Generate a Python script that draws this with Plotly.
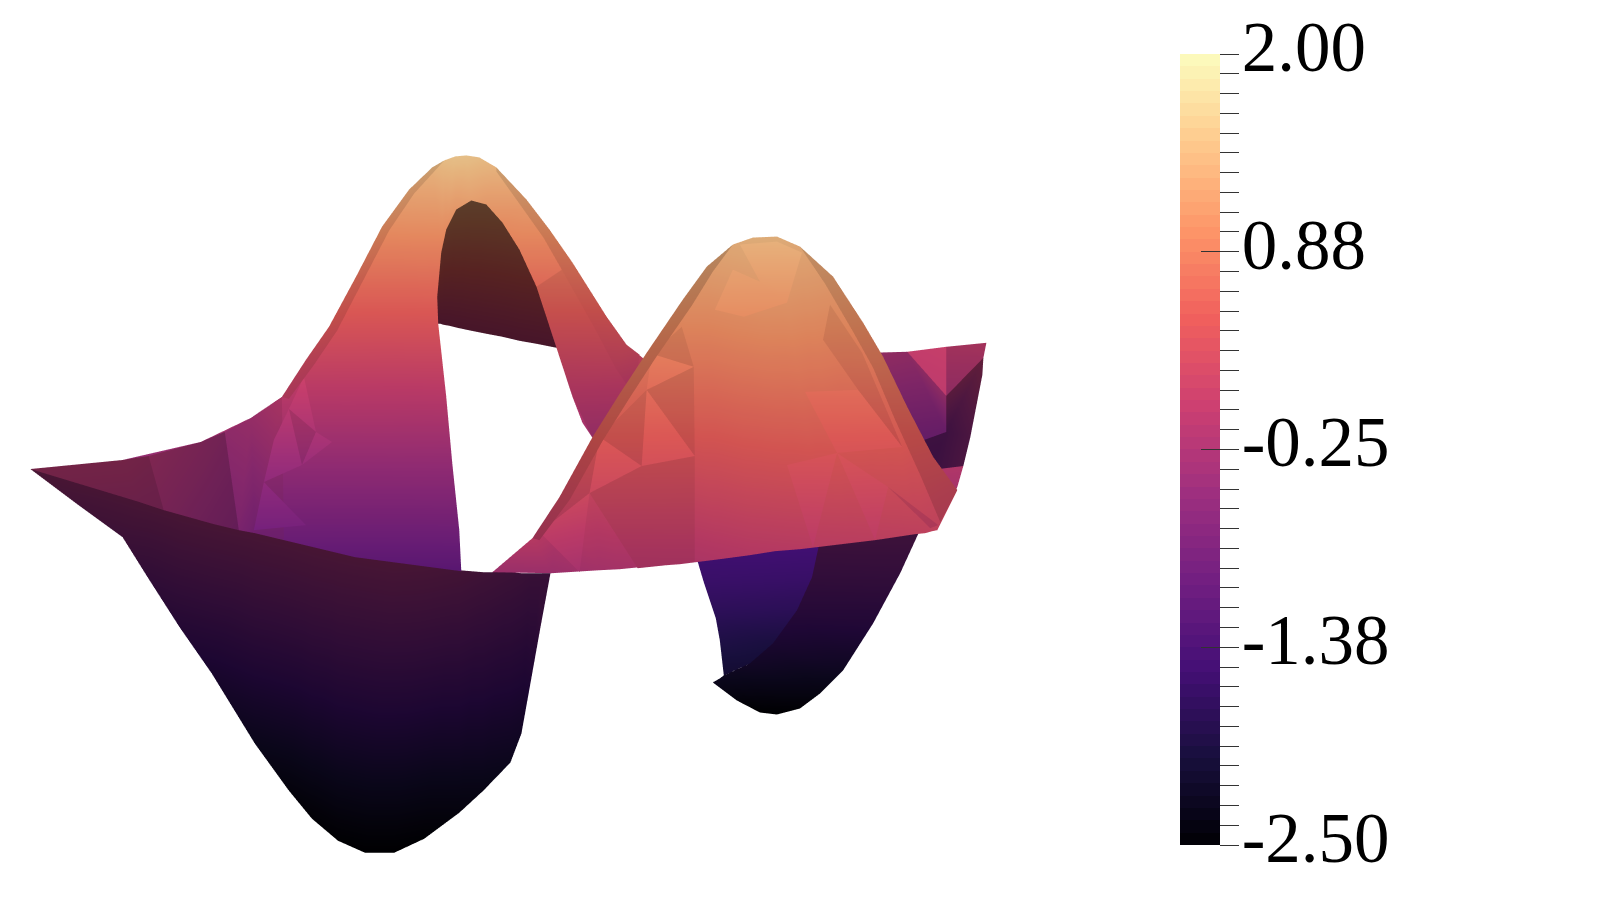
import plotly.graph_objects as go
from plotly.colors import sample_colorscale

# value range and colorbar labels
VMIN, VMAX = -2.5, 2.0
MAJOR_VALS = [-2.5, -1.375, -0.25, 0.875, 2.0]
MAJOR_TEXT = ['-2.50', '-1.38', '-0.25', '0.88', '2.00']
TICK_VALS = [VMIN + n * 0.1125 for n in range(41)]

# sheet, as strips between two edge lines (across, height, value)
P1_LEFT_AX = [32, 124, 202, 252, 283, 307, 330, 357, 383, 410, 433, 445, 456, 467]
P1_LEFT_AH = [469, 460, 442, 418, 397, 360, 327, 277, 227, 190, 168, 161, 157, 156]
P1_LEFT_AV = [-0.51, -0.45, -0.33, -0.18, -0.04, 0.2, 0.41, 0.73, 1.05, 1.3, 1.45, 1.55, 1.6, 1.6]
P1_LEFT_BX = [32, 141, 256, 356, 462, 460, 453, 447, 439, 438, 442, 447, 457, 472]
P1_LEFT_BH = [469, 502, 533, 557, 571, 530, 463, 397, 324, 297, 253, 230, 210, 201]
P1_LEFT_BV = [-0.51, -0.72, -0.92, -1.08, -1.17, -0.9, -0.47, -0.04, 0.43, 0.6, 0.89, 1.03, 1.15, 1.25]

P1_RIGHT_AX = [467, 480, 497, 527, 550, 573, 607, 627, 660]
P1_RIGHT_AH = [156, 158, 168, 200, 230, 263, 317, 345, 372]
P1_RIGHT_AV = [1.6, 1.55, 1.45, 1.22, 1.03, 0.82, 0.47, 0.3, 0.1]
P1_RIGHT_BX = [472, 487, 503, 520, 537, 557, 573, 583, 593]
P1_RIGHT_BH = [201, 205, 223, 250, 287, 348, 397, 423, 438]
P1_RIGHT_BV = [1.25, 1.18, 1.05, 0.9, 0.66, 0.27, -0.04, -0.2, -0.3]

P1_LOW_AX = [573, 607, 627, 660]
P1_LOW_AH = [263, 317, 345, 372]
P1_LOW_AV = [0.82, 0.47, 0.3, 0.1]
P1_LOW_BX = [537, 557, 573, 593]
P1_LOW_BH = [287, 348, 397, 438]
P1_LOW_BV = [0.66, 0.27, -0.04, -0.3]

ARCH_AX = [439, 438, 442, 447, 457, 472, 487, 503, 520, 537, 557]
ARCH_AH = [324, 297, 253, 230, 210, 201, 205, 223, 250, 287, 348]
ARCH_AV = [-0.1, 0.35, 0.74, 0.94, 1.12, 1.2, 1.16, 1.0, 0.77, 0.44, -0.1]
ARCH_BX = [439, 441, 444, 450, 458, 472, 487, 503, 520, 537, 557]
ARCH_BH = [324, 324, 325, 326, 328, 331, 334, 337, 341, 344, 348]
ARCH_BV = [-0.1] * 11

V1_AX = [32, 80, 124, 149, 181, 213, 256, 290, 313, 339, 366, 395, 425, 460, 484, 511, 522, 531, 541, 551]
V1_AH = [469, 482, 492, 500, 510, 518, 528, 536, 543, 549, 554, 559, 564, 570, 572, 572, 573, 573, 573, 573]
V1_AV = [-0.35] * 12 + [-0.4, -0.5, -0.6, -0.7, -0.75, -0.8, -0.8, -0.8]
V1_BX = V1_AX
V1_BH = [469, 505, 537, 577, 627, 673, 743, 790, 818, 840, 852, 852, 838, 812, 790, 762, 733, 683, 627, 573]
V1_BV = [-0.35, -0.55, -0.7, -1.0, -1.3, -1.6, -2.0, -2.28, -2.4, -2.46, -2.5, -2.5, -2.44, -2.25, -2.1, -1.95, -1.8, -1.45, -1.0, -0.8]

P2_AX = [493, 533, 560, 593, 620, 647, 683, 707, 733, 753, 777, 800, 833, 863, 883, 907, 933, 957]
P2_AH = [572, 538, 497, 437, 394, 353, 300, 267, 245, 238, 237, 247, 277, 323, 357, 407, 457, 490]
P2_AV = [-0.3, 0.05, 0.23, 0.5, 0.7, 0.88, 1.12, 1.27, 1.4, 1.45, 1.45, 1.38, 1.22, 1.01, 0.86, 0.63, 0.41, 0.26]
P2_BX = [493, 552, 600, 620, 640, 680, 720, 750, 775, 800, 825, 850, 875, 895, 915, 925, 932, 937]
P2_BH = [572, 573, 570, 569, 567, 564, 559, 555, 551, 549, 546, 543, 540, 537, 534, 533, 531, 530]
P2_BV = [-0.3, -0.3, -0.2, -0.17, -0.15, -0.12, -0.05, 0.0, 0.03, 0.05, 0.08, 0.1, 0.12, 0.14, 0.16, 0.17, 0.18, 0.18]

V2_LEFT_AX = [696, 704, 710, 716, 720, 724]
V2_LEFT_AH = [555, 582, 600, 618, 640, 675]
V2_LEFT_AV = [-1.55, -1.62, -1.7, -1.8, -1.92, -2.1]
V2_LEFT_BX = [820, 812, 797, 773, 750, 724]
V2_LEFT_BH = [540, 577, 610, 643, 663, 675]
V2_LEFT_BV = [-1.5, -1.62, -1.78, -1.98, -2.05, -2.1]

V2_RIGHT_AX = [922, 900, 873, 843, 820, 800, 777, 760, 737, 713]
V2_RIGHT_AH = [525, 573, 623, 670, 693, 708, 714, 712, 700, 682]
V2_RIGHT_AV = [-0.7, -1.0, -1.4, -1.9, -2.2, -2.4, -2.5, -2.5, -2.3, -2.0]
V2_RIGHT_BX = [820, 812, 797, 773, 750, 735, 724, 724, 720, 713]
V2_RIGHT_BH = [540, 577, 610, 643, 663, 670, 675, 675, 678, 682]
V2_RIGHT_BV = [-0.8, -1.05, -1.3, -1.6, -1.8, -1.9, -1.95, -1.95, -2.0, -2.0]

# left wing gets darker towards the tip
WING1_AX = [32, 124, 150]
WING1_AH = [469, 460, 456]
WING1_AV = [-0.1, -0.15, -0.2]
WING1_BX = [32, 141, 165]
WING1_BH = [469, 502, 510]
WING1_BV = [-0.15, -0.3, -0.35]
WING2_AX = [150, 202, 226]
WING2_AH = [456, 442, 432]
WING2_AV = [-0.2, -0.33, -0.4]
WING2_BX = [165, 215, 240]
WING2_BH = [510, 524, 530]
WING2_BV = [-0.35, -0.55, -0.65]
WING3_AX = [226, 252, 283]
WING3_AH = [432, 418, 397]
WING3_AV = [-0.4, -0.3, -0.05]
WING3_BX = [240, 256, 285]
WING3_BH = [530, 533, 540]
WING3_BV = [-0.65, -0.8, -0.85]

# thin darker bands along the peak outlines
P1_RIM_AX = [283, 307, 330, 357, 383, 410, 433, 445]
P1_RIM_AH = [397, 360, 327, 277, 227, 190, 168, 161]
P1_RIM_AV = [0.1, 0.25, 0.45, 0.73, 1.05, 1.3, 1.45, 1.55]
P1_RIM_BX = [290, 315, 338, 364, 390, 415, 436, 445]
P1_RIM_BH = [399, 365, 331, 281, 231, 194, 171, 161]
P1_RIM_BV = [0.05, 0.2, 0.4, 0.68, 1.0, 1.25, 1.43, 1.55]

P1_RIM2_AX = [497, 527, 550, 573, 607, 627, 640]
P1_RIM2_AH = [168, 200, 230, 263, 317, 345, 355]
P1_RIM2_AV = [1.45, 1.22, 1.03, 0.82, 0.47, 0.3, 0.2]
P1_RIM2_BX = [497, 522, 544, 564, 596, 616, 634]
P1_RIM2_BH = [172, 207, 238, 273, 330, 368, 395]
P1_RIM2_BV = [1.42, 1.18, 0.98, 0.75, 0.38, 0.15, -0.1]

P2_RIM_AX = [533, 560, 593, 620, 647, 683, 707, 733]
P2_RIM_AH = [538, 497, 437, 394, 353, 300, 267, 245]
P2_RIM_AV = [0.05, 0.23, 0.5, 0.7, 0.88, 1.12, 1.27, 1.4]
P2_RIM_BX = [540, 570, 603, 630, 656, 692, 713, 733]
P2_RIM_BH = [540, 500, 441, 398, 358, 306, 272, 245]
P2_RIM_BV = [0.05, 0.23, 0.5, 0.68, 0.85, 1.08, 1.24, 1.4]

P2_RIM2_AX = [800, 833, 863, 883, 907, 933, 957]
P2_RIM2_AH = [247, 277, 323, 357, 407, 457, 490]
P2_RIM2_AV = [1.38, 1.22, 1.01, 0.86, 0.63, 0.41, 0.26]
P2_RIM2_BX = [800, 825, 853, 873, 895, 920, 940]
P2_RIM2_BH = [247, 284, 332, 368, 420, 475, 522]
P2_RIM2_BV = [1.38, 1.2, 0.98, 0.82, 0.57, 0.36, 0.2]

# flat triangles of the coarse mesh on the second peak
P2_PTS_X = [600, 590, 642, 647, 652, 694, 695, 638, 580, 540, 682, 715, 744, 727, 774, 787, 760, 733, 830, 823, 805, 858, 862, 902, 888, 787, 837, 813, 875, 935, 753, 695, 740, 777, 802, 938, 930]
P2_PTS_H = [437, 493, 466, 390, 354, 367, 456, 568, 572, 532, 327, 310, 317, 367, 334, 303, 282, 270, 305, 340, 392, 390, 353, 447, 487, 465, 453, 547, 540, 531, 555, 562, 245, 242, 253, 525, 528]
P2_PTS_V = [0.5, 0.25, 0.37, 0.71, 0.87, 0.82, 0.41, -0.09, -0.25, 0.07, 0.99, 1.07, 1.04, 0.82, 0.96, 1.1, 1.2, 1.25, 1.09, 0.94, 0.7, 0.71, 0.88, 0.45, 0.27, 0.37, 0.43, 0.0, 0.04, 0.08, 0.0, -0.06, 1.4, 1.42, 1.36, 0.1, 0.1]
P2_DARK = [[0, 3, 2], [3, 5, 6], [4, 10, 5], [1, 2, 7], [2, 6, 31], [2, 31, 7], [0, 1, 9], [18, 22, 21], [18, 21, 19], [22, 21, 23], [24, 35, 36]]
P2_BRIGHT = [[17, 16, 15], [17, 15, 12], [17, 12, 11], [32, 33, 34], [32, 34, 15], [32, 15, 16], [20, 21, 26], [21, 23, 26], [26, 24, 28], [0, 2, 1], [3, 2, 6], [9, 1, 8], [4, 5, 3], [25, 26, 27]]

# same for the pink patch on the first peak's left flank
P1_PTS_X = [305, 317, 290, 275, 265, 303, 333, 255, 307]
P1_PTS_H = [377, 432, 409, 440, 482, 465, 442, 530, 525]
P1_PTS_V = [0.09, -0.27, -0.12, -0.32, -0.59, -0.48, -0.33, -0.9, -0.87]
P1_BRIGHT = [[0, 1, 2], [2, 3, 4], [2, 4, 5], [1, 5, 6], [4, 7, 8]]
P1_DARK = [[2, 1, 5]]

# corner of the sheet seen behind the second peak
BACK_X = [870, 907, 946, 986, 983, 946, 946, 910, 930, 963, 982, 970, 940, 957]
BACK_H = [353, 352, 347, 343, 358, 396, 432, 445, 470, 466, 375, 437, 523, 487]
BACK_MID_V = [-0.25, -0.3, -0.05, 0.0, -0.1, -0.3, -0.85, -0.9, -0.9, -0.5, -0.3, -0.5, -0.3, -0.1]
BACK_MID = [[0, 1, 7], [1, 6, 7], [1, 5, 6], [2, 3, 4], [2, 4, 5]]
BACK_TOP_V = [0.0, 0.0, 0.05, 0.1, 0.0, -0.05, 0.0, 0.0, -0.1, -0.1, 0.0, 0.0, -0.35, -0.2]
BACK_TOP = [[1, 2, 5]]
BACK_LOW = [[8, 9, 13], [8, 13, 12]]
BACK_DARK_V = [0.0, 0.0, 0.0, 0.0, -0.1, -0.3, -0.9, -0.9, -1.0, -0.6, -0.3, -0.6, 0.0, 0.0]
BACK_DARK = [[5, 4, 6], [4, 10, 11], [4, 11, 6], [6, 11, 9], [6, 9, 8], [6, 8, 7]]

bands = sample_colorscale('Magma', [(n + 0.5) / 64 for n in range(64)])
stepped = []
for n, c in enumerate(bands):
    stepped.append([n / 64, c])
    stepped.append([(n + 1) / 64, c])

fig = go.Figure()


def flat_light(ambient):
    return dict(ambient=ambient, diffuse=0, specular=0, fresnel=0, roughness=1)


def add_strip(ax, ah, av, bx, bh, bv, depth, ambient):
    n = len(ax)
    i, j, k = [], [], []
    for m in range(n - 1):
        i += [m, m + 1]
        j += [m + 1, n + m + 1]
        k += [n + m, n + m]
    fig.add_trace(go.Mesh3d(
        x=list(ax) + list(bx), y=[depth] * (2 * n), z=list(ah) + list(bh),
        i=i, j=j, k=k, intensity=list(av) + list(bv), coloraxis='coloraxis4',
        lighting=flat_light(ambient), hoverinfo='skip'))


def add_tris(xs, hs, vs, tris, depth, ambient):
    fig.add_trace(go.Mesh3d(
        x=xs, y=[depth] * len(xs), z=hs,
        i=[t[0] for t in tris], j=[t[1] for t in tris], k=[t[2] for t in tris],
        intensity=vs, coloraxis='coloraxis4',
        lighting=flat_light(ambient), hoverinfo='skip'))


add_tris(BACK_X, BACK_H, BACK_MID_V, BACK_MID, 5.0, 0.8)
add_tris(BACK_X, BACK_H, BACK_TOP_V, BACK_TOP, 5.0, 0.95)
add_tris(BACK_X, BACK_H, BACK_TOP_V, BACK_LOW, 5.0, 0.9)
add_tris(BACK_X, BACK_H, BACK_DARK_V, BACK_DARK, 5.0, 0.5)
add_strip(ARCH_AX, ARCH_AH, ARCH_AV, ARCH_BX, ARCH_BH, ARCH_BV, 4.0, 0.36)
add_strip(V1_AX, V1_AH, V1_AV, V1_BX, V1_BH, V1_BV, 3.0, 0.42)
add_strip(V2_LEFT_AX, V2_LEFT_AH, V2_LEFT_AV, V2_LEFT_BX, V2_LEFT_BH, V2_LEFT_BV, 3.0, 1.0)
add_strip(V2_RIGHT_AX, V2_RIGHT_AH, V2_RIGHT_AV, V2_RIGHT_BX, V2_RIGHT_BH, V2_RIGHT_BV, 2.9, 0.45)
add_strip(P1_RIGHT_AX, P1_RIGHT_AH, P1_RIGHT_AV, P1_RIGHT_BX, P1_RIGHT_BH, P1_RIGHT_BV, 2.0, 0.9)
add_strip(P1_LOW_AX, P1_LOW_AH, P1_LOW_AV, P1_LOW_BX, P1_LOW_BH, P1_LOW_BV, 1.95, 0.82)
add_strip(P1_LEFT_AX, P1_LEFT_AH, P1_LEFT_AV, P1_LEFT_BX, P1_LEFT_BH, P1_LEFT_BV, 2.0, 0.9)
add_strip(WING1_AX, WING1_AH, WING1_AV, WING1_BX, WING1_BH, WING1_BV, 1.9, 0.6)
add_strip(WING2_AX, WING2_AH, WING2_AV, WING2_BX, WING2_BH, WING2_BV, 1.9, 0.68)
add_strip(WING3_AX, WING3_AH, WING3_AV, WING3_BX, WING3_BH, WING3_BV, 1.9, 0.84)
add_tris(P1_PTS_X, P1_PTS_H, P1_PTS_V, P1_BRIGHT, 1.88, 0.96)
add_tris(P1_PTS_X, P1_PTS_H, P1_PTS_V, P1_DARK, 1.87, 0.86)
add_strip(P1_RIM_AX, P1_RIM_AH, P1_RIM_AV, P1_RIM_BX, P1_RIM_BH, P1_RIM_BV, 1.85, 0.8)
add_strip(P1_RIM2_AX, P1_RIM2_AH, P1_RIM2_AV, P1_RIM2_BX, P1_RIM2_BH, P1_RIM2_BV, 1.85, 0.8)
add_strip(P2_AX, P2_AH, P2_AV, P2_BX, P2_BH, P2_BV, 1.0, 0.87)
add_tris(P2_PTS_X, P2_PTS_H, P2_PTS_V, P2_DARK, 0.95, 0.81)
add_tris(P2_PTS_X, P2_PTS_H, P2_PTS_V, P2_BRIGHT, 0.93, 0.91)
add_strip(P2_RIM_AX, P2_RIM_AH, P2_RIM_AV, P2_RIM_BX, P2_RIM_BH, P2_RIM_BV, 0.9, 0.72)
add_strip(P2_RIM2_AX, P2_RIM2_AH, P2_RIM2_AV, P2_RIM2_BX, P2_RIM2_BH, P2_RIM2_BV, 0.9, 0.76)


def add_blank(axis_name):
    # invisible trace, only there to carry one colorbar
    fig.add_trace(go.Mesh3d(x=[0, 0, 0], y=[6, 6, 6], z=[8, 8, 8], i=[0], j=[1], k=[2],
                            intensity=[VMIN, 0, VMAX], coloraxis=axis_name, hoverinfo='skip'))


add_blank('coloraxis')
add_blank('coloraxis2')
add_blank('coloraxis3')

# page sits 8 px in from the window corner
bar = dict(thicknessmode='pixels', thickness=40, lenmode='pixels', len=791,
           x=1172 / 1600, xanchor='left', xpad=0, y=1 - 46 / 900, yanchor='top', ypad=0,
           outlinewidth=0, tickcolor='#333333', tickwidth=1, ticklen=19)
label_bar = dict(bar, y=1 - 38 / 900, ticklen=8, tickcolor='rgba(0,0,0,0)',
                 ticklabeloverflow='allow')

axis_off = dict(visible=False, showgrid=False, zeroline=False, showbackground=False)
fig.update_layout(
    width=1600, height=900, margin=dict(l=0, r=0, t=0, b=0), paper_bgcolor='white',
    coloraxis=dict(cmin=VMIN, cmax=VMAX, colorscale=stepped,
                   colorbar=dict(bar, ticks='outside', tickmode='array', tickvals=TICK_VALS,
                                 showticklabels=False)),
    coloraxis2=dict(cmin=VMIN, cmax=VMAX, colorscale=stepped,
                    colorbar=dict(bar, ticks='inside', tickmode='array', tickvals=MAJOR_VALS,
                                  showticklabels=False)),
    coloraxis3=dict(cmin=VMIN, cmax=VMAX,
                    colorscale=[[0, 'rgba(0,0,0,0)'], [1, 'rgba(0,0,0,0)']],
                    colorbar=dict(label_bar, ticks='outside', tickmode='array', tickvals=MAJOR_VALS,
                                  ticktext=MAJOR_TEXT,
                                  tickfont=dict(family='Liberation Serif', size=71, color='black'))),
    coloraxis4=dict(cmin=VMIN, cmax=VMAX, colorscale='Magma', showscale=False),
    scene=dict(
        domain=dict(x=[0, 1], y=[0, 1]),
        xaxis=dict(axis_off, range=[8, 1608]),
        yaxis=dict(axis_off, range=[0, 6]),
        zaxis=dict(axis_off, range=[908, 8]),
        aspectmode='manual', aspectratio=dict(x=3.563, y=0.223, z=2.004),
        camera=dict(projection=dict(type='orthographic'), eye=dict(x=0, y=-3.0, z=0),
                    center=dict(x=0, y=0, z=0), up=dict(x=0, y=0, z=1))),
    showlegend=False)

fig.write_html("out.html")
